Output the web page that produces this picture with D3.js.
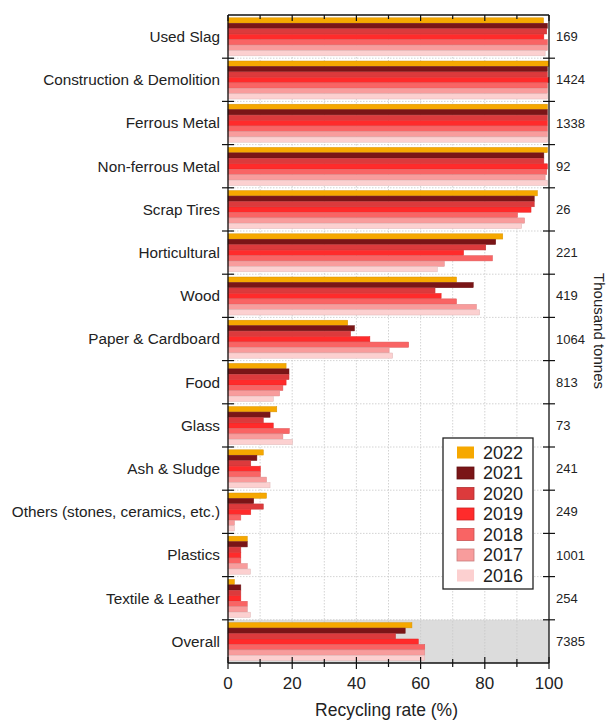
<!DOCTYPE html>
<html>
<head>
<meta charset="utf-8">
<script src="https://cdn.jsdelivr.net/npm/d3@7"></script>
<style>
  body { margin: 0; background: #fff; }
  text { font-family: Arial, "Liberation Sans", sans-serif; fill: #222; }
</style>
</head>
<body>
<div id="container"></div>
<script>
const categories = ['Used Slag', 'Construction & Demolition', 'Ferrous Metal', 'Non-ferrous Metal',
    'Scrap Tires', 'Horticultural', 'Wood', 'Paper & Cardboard', 'Food', 'Glass', 'Ash & Sludge',
    'Others (stones, ceramics, etc.)', 'Plastics', 'Textile & Leather', 'Overall'];
const tonnes = ['169', '1424', '1338', '92', '26', '221', '419', '1064', '813', '73', '241', '249', '1001', '254', '7385'];
const years = ['2022', '2021', '2020', '2019', '2018', '2017', '2016'];
const yearColors = ['#f6a800', '#7a1517', '#dc3a3c', '#ff2b2b', '#f96464', '#f89c9c', '#fcd0d0'];

// recycling rate (%) per year, in category order
const rate2022 = [98.3, 100, 99.5, 99.5, 96.4, 85.6, 71.2, 37.3, 18.1, 15.2, 11, 12, 6, 2, 57.3];
const rate2021 = [99.5, 99.5, 99.5, 98.4, 95.4, 83.4, 76.4, 39.4, 19, 13.1, 9, 8, 6, 4, 55.2];
const rate2020 = [99.3, 99.5, 99.5, 98.4, 95.4, 80.3, 64.5, 38.2, 19, 11, 7.1, 11, 4, 4, 52.2];
const rate2019 = [98.4, 100, 99.5, 99.5, 94.4, 73.4, 66.4, 44.2, 18.1, 14.1, 10.1, 7.1, 4, 4, 59.3];
const rate2018 = [99.5, 99.5, 99.5, 99.3, 90.2, 82.4, 71.2, 56.3, 17.1, 19.1, 10.1, 4, 4, 6, 61.3];
const rate2017 = [99.5, 99.5, 99.5, 98.8, 92.4, 67.4, 77.4, 50.2, 16.1, 17.1, 12, 2, 6, 6, 61.3];
const rate2016 = [98.8, 99.5, 99.5, 99.5, 91.5, 65.2, 78.4, 51.3, 14.1, 20.1, 13.1, 2, 7, 7, 61.3];
const rates = [rate2022, rate2021, rate2020, rate2019, rate2018, rate2017, rate2016];

const xTicks = [0, 20, 40, 60, 80, 100];

const W = 610, H = 722;
const margin = { top: 15, right: 61, bottom: 59, left: 228 };
const width = W - margin.left - margin.right;
const height = H - margin.top - margin.bottom;

const svg = d3.select('#container').append('svg')
    .attr('width', W).attr('height', H);
const g = svg.append('g').attr('transform', `translate(${margin.left},${margin.top})`);

const x = d3.scaleLinear().domain([0, 100]).range([0, width]);
const y = d3.scaleBand().domain(categories).range([0, height]).padding(0);
const bw = y.bandwidth();
const yy = d3.scaleBand().domain(years).range([bw * 0.06, bw * 0.95]).padding(0.04);

// grey background for Overall
g.append('rect')
    .attr('x', 0).attr('y', y('Overall'))
    .attr('width', width).attr('height', bw)
    .attr('fill', '#dcdcdc');

// grid
g.append('g').selectAll('line')
    .data(d3.range(10, 100, 10))
    .join('line')
    .attr('x1', d => x(d)).attr('x2', d => x(d))
    .attr('y1', 0).attr('y2', height)
    .attr('stroke', '#c8c8c8').attr('stroke-width', 0.8)
    .attr('stroke-dasharray', '1.5,1.5');
g.append('g').selectAll('line')
    .data(categories.slice(1))
    .join('line')
    .attr('x1', 0).attr('x2', width)
    .attr('y1', d => y(d)).attr('y2', d => y(d))
    .attr('stroke', '#c8c8c8').attr('stroke-width', 0.8)
    .attr('stroke-dasharray', '1.5,1.5');

// bars
const rows = [];
categories.forEach((c, i) => {
    years.forEach((yr, j) => {
        rows.push({ cat: c, year: yr, value: rates[j][i], color: yearColors[j] });
    });
});
g.append('g').selectAll('rect')
    .data(rows)
    .join('rect')
    .attr('x', x(0))
    .attr('y', d => y(d.cat) + yy(d.year))
    .attr('width', d => x(d.value) - x(0))
    .attr('height', yy.bandwidth())
    .attr('fill', d => d.color)
    .attr('stroke', d => d3.color(d.color).darker(0.35))
    .attr('stroke-width', 0.5);

// frame
const frame = g.append('g').attr('stroke', '#111').attr('stroke-width', 1.3).attr('fill', 'none');
frame.append('line').attr('x1', 0).attr('x2', width).attr('y1', 0).attr('y2', 0);
frame.append('line').attr('x1', 0).attr('x2', width).attr('y1', height).attr('y2', height);
frame.append('line').attr('x1', 0).attr('x2', 0).attr('y1', 0).attr('y2', height);
frame.append('line').attr('x1', width).attr('x2', width).attr('y1', 0).attr('y2', height);

// category boundary ticks (left & right, crossing)
const bounds = categories.slice(1).map(c => y(c));
['left', 'right'].forEach(side => {
    const xp = side === 'left' ? 0 : width;
    g.append('g').selectAll('line')
        .data(bounds)
        .join('line')
        .attr('x1', xp - 6).attr('x2', xp + 6)
        .attr('y1', d => d).attr('y2', d => d)
        .attr('stroke', '#111').attr('stroke-width', 1.2);
});

// x ticks: bottom crossing, top inward
const allTicks = d3.range(0, 101, 10);
g.append('g').selectAll('line')
    .data(allTicks)
    .join('line')
    .attr('x1', d => x(d)).attr('x2', d => x(d))
    .attr('y1', d => height - (d % 20 === 0 ? 6 : 4))
    .attr('y2', d => height + (d % 20 === 0 ? 6 : 4))
    .attr('stroke', '#111').attr('stroke-width', 1.2);
g.append('g').selectAll('line')
    .data(allTicks)
    .join('line')
    .attr('x1', d => x(d)).attr('x2', d => x(d))
    .attr('y1', 0).attr('y2', d => (d % 20 === 0 ? 6 : 4))
    .attr('stroke', '#111').attr('stroke-width', 1.2);

g.append('g').selectAll('text')
    .data(xTicks)
    .join('text')
    .attr('x', d => x(d)).attr('y', height + 26)
    .attr('text-anchor', 'middle')
    .attr('font-size', 17)
    .text(d => d);

// category labels
g.append('g').selectAll('text')
    .data(categories)
    .join('text')
    .attr('x', -8).attr('y', d => y(d) + bw / 2)
    .attr('dy', '0.35em')
    .attr('text-anchor', 'end')
    .attr('font-size', 15.3)
    .text(d => d);

// tonnes labels
g.append('g').selectAll('text')
    .data(categories)
    .join('text')
    .attr('x', width + 7).attr('y', d => y(d) + bw / 2)
    .attr('dy', '0.35em')
    .attr('font-size', 13)
    .text((d, i) => tonnes[i]);

// axis titles
svg.append('text')
    .attr('x', margin.left + width / 2 - 2).attr('y', H - 6)
    .attr('text-anchor', 'middle')
    .attr('font-size', 17.5)
    .text('Recycling rate (%)');
svg.append('text')
    .attr('transform', `translate(${W - 16},${margin.top + height / 2 - 8}) rotate(90)`)
    .attr('text-anchor', 'middle')
    .attr('font-size', 15)
    .text('Thousand tonnes');

// legend
const lg = svg.append('g').attr('transform', 'translate(443,438)');
lg.append('rect').attr('width', 90).attr('height', 151)
    .attr('fill', '#fff').attr('stroke', '#222').attr('stroke-width', 1.3);
const items = lg.selectAll('g.item')
    .data(years)
    .join('g')
    .attr('class', 'item')
    .attr('transform', (d, i) => `translate(0,${14.5 + i * 20.5})`);
items.append('rect')
    .attr('x', 14).attr('y', -6).attr('width', 17).attr('height', 12)
    .attr('fill', (d, i) => yearColors[i])
    .attr('stroke', (d, i) => i === 0 || i === 6 ? 'none' : d3.color(yearColors[i]).darker(0.6))
    .attr('stroke-width', 0.8);
items.append('text')
    .attr('x', 40).attr('dy', '0.36em')
    .attr('font-size', 18)
    .text(d => d);
</script>
</body>
</html>
